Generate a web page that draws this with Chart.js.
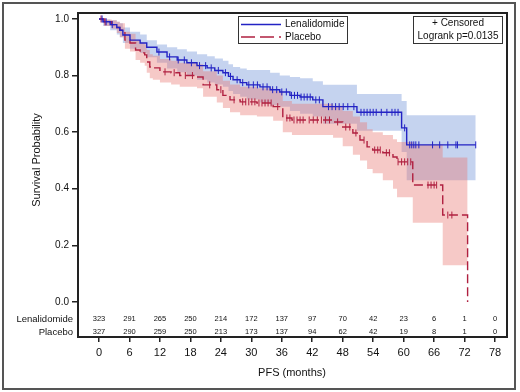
<!DOCTYPE html>
<html>
<head>
<meta charset="utf-8">
<script src="https://cdn.jsdelivr.net/npm/chart.js@4.4.1/dist/chart.umd.min.js"></script>
<style>
  html, body { margin: 0; padding: 0; background: #fff; }
</style>
</head>
<body>
<canvas id="km" width="520" height="392"></canvas>
<script>
// Lenalidomide: KM estimate and confidence band
var lenTime  = [0, 0.8, 2.2, 3.5, 4.1, 4.7, 6.1, 8.1, 9.4, 11.4, 13.4, 15.4, 17.3, 19.3, 21.3, 22.8, 24.4, 25.5, 26.4, 27.8, 29.1, 31.7, 33.7, 35.6, 37.6, 39.6, 42.1, 44.1, 50.8, 59.6, 60.6, 74.2]
var lenSurv  = [1.0, 0.99, 0.98, 0.97, 0.96, 0.943, 0.925, 0.915, 0.90, 0.883, 0.866, 0.855, 0.845, 0.835, 0.827, 0.818, 0.81, 0.797, 0.785, 0.775, 0.767, 0.76, 0.75, 0.742, 0.73, 0.724, 0.714, 0.69, 0.67, 0.615, 0.555, 0.555]
var lenUpper = [1.0, 0.998, 0.995, 0.99, 0.985, 0.97, 0.955, 0.945, 0.925, 0.91, 0.90, 0.893, 0.885, 0.875, 0.868, 0.86, 0.852, 0.84, 0.83, 0.825, 0.82, 0.82, 0.81, 0.80, 0.795, 0.79, 0.78, 0.767, 0.735, 0.71, 0.66, 0.66]
var lenLower = [1.0, 0.975, 0.96, 0.945, 0.935, 0.915, 0.895, 0.88, 0.865, 0.845, 0.825, 0.812, 0.80, 0.785, 0.775, 0.768, 0.76, 0.745, 0.735, 0.725, 0.715, 0.705, 0.695, 0.69, 0.675, 0.665, 0.655, 0.63, 0.605, 0.53, 0.43, 0.43]
var lenCensor = [0.6, 1.4, 2.6, 11.8, 13.9, 15.6, 16.8, 18.2, 19.8, 21.0, 22.1, 23.5, 24.9, 25.9, 27.2, 28.3, 29.5, 30.4, 31.2, 32.3, 33.1, 34.2, 35.0, 36.0, 36.9, 37.9, 38.5, 39.1, 39.8, 40.4, 41.0, 41.6, 42.7, 43.4, 45.2, 45.9, 46.6, 47.3, 48.1, 49.0, 50.2, 51.6, 52.2, 52.8, 53.4, 54.0, 54.6, 55.6, 56.7, 57.7, 58.3, 58.9, 60.2, 61.2, 61.6, 62.0, 62.4, 63.0, 65.7, 67.1, 68.7, 70.3, 70.6, 74.2]

// Placebo
var plaTime  = [0, 1.0, 2.5, 3.5, 4.1, 5.1, 6.1, 7.2, 8.1, 9.0, 9.4, 10.0, 10.6, 12.0, 14.2, 15.9, 19.3, 20.5, 23.2, 24.4, 25.8, 27.8, 31.1, 34.3, 36.2, 38.0, 46.1, 48.0, 50.0, 51.4, 52.8, 53.9, 55.9, 57.9, 58.7, 61.8, 67.7, 72.6]
var plaSurv  = [1.0, 0.99, 0.98, 0.97, 0.96, 0.925, 0.915, 0.89, 0.88, 0.873, 0.848, 0.83, 0.827, 0.813, 0.81, 0.80, 0.795, 0.767, 0.75, 0.73, 0.714, 0.707, 0.703, 0.69, 0.65, 0.643, 0.636, 0.618, 0.597, 0.572, 0.548, 0.537, 0.527, 0.512, 0.495, 0.413, 0.307, 0.0]
var plaUpper = [1.0, 0.998, 0.995, 0.99, 0.985, 0.955, 0.948, 0.925, 0.915, 0.91, 0.89, 0.875, 0.87, 0.858, 0.852, 0.845, 0.84, 0.815, 0.80, 0.782, 0.768, 0.76, 0.755, 0.745, 0.71, 0.70, 0.693, 0.675, 0.655, 0.635, 0.61, 0.60, 0.59, 0.575, 0.565, 0.555, 0.51, 0.51]
var plaLower = [1.0, 0.975, 0.965, 0.95, 0.935, 0.895, 0.885, 0.855, 0.845, 0.835, 0.81, 0.79, 0.785, 0.775, 0.768, 0.76, 0.755, 0.725, 0.705, 0.685, 0.67, 0.66, 0.655, 0.64, 0.60, 0.59, 0.58, 0.55, 0.52, 0.50, 0.47, 0.455, 0.43, 0.40, 0.37, 0.28, 0.13, 0.13]
var plaCensor = [0.4, 1.2, 13.0, 14.8, 17.0, 18.4, 21.8, 24.0, 26.6, 28.3, 28.9, 29.5, 30.1, 30.7, 31.5, 32.1, 32.7, 33.3, 33.9, 35.2, 37.0, 37.6, 38.4, 39.0, 39.6, 40.2, 41.4, 42.2, 43.0, 43.8, 44.6, 45.4, 47.0, 48.6, 49.4, 50.6, 52.2, 54.3, 54.9, 55.4, 56.6, 57.2, 58.9, 59.6, 60.2, 60.8, 61.4, 64.8, 65.4, 66.0, 66.5, 68.7, 69.5]

// number at risk table
var riskMonths = [0, 6, 12, 18, 24, 30, 36, 42, 48, 54, 60, 66, 72, 78]
var lenRisk = [323, 291, 265, 250, 214, 172, 137, 97, 70, 42, 23, 6, 1, 0]
var plaRisk = [327, 290, 259, 250, 213, 173, 137, 94, 62, 42, 19, 8, 1, 0]
var yTicks = [0, 0.2, 0.4, 0.6, 0.8, 1.0]

var azul = '#2323c4'
var vermelho = '#b02040'

function pontos(tempos, valores) {
    return tempos.map(function (t, i) { return { x: t, y: valores[i] } })
}

// value of the step curve at time t
function survNoTempo(tempos, surv, t) {
    var s = surv[0]
    for (var i = 0; i < tempos.length; i++) {
        if (tempos[i] <= t) s = surv[i]
    }
    return s
}

function censurados(lista, tempos, surv) {
    return lista.map(function (t) { return { x: t, y: survNoTempo(tempos, surv, t) } })
}

Chart.defaults.font.family = '"Liberation Sans", Arial, sans-serif'
Chart.defaults.color = '#111'

const decor = {
    id: 'decor',
    afterDraw(chart) {
        const ctx = chart.ctx
        const a = chart.chartArea
        const xs = chart.scales.x
        ctx.save()

        // frame round the plot
        ctx.strokeStyle = '#222'
        ctx.lineWidth = 2
        ctx.strokeRect(a.left, a.top, a.right - a.left, a.bottom - a.top)

        // outer border
        ctx.strokeStyle = '#555'
        ctx.lineWidth = 2
        ctx.strokeRect(3, 3, 512, 386)

        // at-risk table
        ctx.fillStyle = '#111'
        ctx.textBaseline = 'middle'
        ctx.font = '9.5px "Liberation Sans", Arial, sans-serif'
        ctx.textAlign = 'right'
        ctx.fillText('Lenalidomide', 73, 319)
        ctx.fillText('Placebo', 73, 332)
        ctx.font = '7.5px "Liberation Sans", Arial, sans-serif'
        ctx.textAlign = 'center'
        for (let i = 0; i < riskMonths.length; i++) {
            const px = xs.getPixelForValue(riskMonths[i])
            ctx.fillText(String(lenRisk[i]), px, 319)
            ctx.fillText(String(plaRisk[i]), px, 332)
        }

        // axis titles
        ctx.font = '11px "Liberation Sans", Arial, sans-serif'
        ctx.fillText('PFS (months)', 292, 373)
        ctx.save()
        ctx.translate(37, 160)
        ctx.rotate(-Math.PI / 2)
        ctx.fillText('Survival Probability', 0, 0)
        ctx.restore()

        // legend
        ctx.strokeStyle = '#333'
        ctx.lineWidth = 1
        ctx.strokeRect(238.5, 16.5, 109, 27)
        ctx.strokeRect(413.5, 16.5, 89, 27)

        ctx.lineWidth = 1.5
        ctx.strokeStyle = azul
        ctx.beginPath()
        ctx.moveTo(241, 24.5)
        ctx.lineTo(281, 24.5)
        ctx.stroke()
        ctx.strokeStyle = vermelho
        ctx.setLineDash([14, 5])
        ctx.beginPath()
        ctx.moveTo(241, 37)
        ctx.lineTo(281, 37)
        ctx.stroke()
        ctx.setLineDash([])

        ctx.font = '10px "Liberation Sans", Arial, sans-serif'
        ctx.textAlign = 'left'
        ctx.fillText('Lenalidomide', 285, 24.5)
        ctx.fillText('Placebo', 285, 37)
        ctx.textAlign = 'center'
        ctx.fillText('+ Censored', 458, 23.5)
        ctx.fillText('Logrank p=0.0135', 458, 36.5)

        ctx.restore()
    }
}

const ctx = document.getElementById('km')

var graficoKM = new Chart(ctx, {
    type: 'line',
    data: {
        datasets: [
            { data: censurados(lenCensor, lenTime, lenSurv), showLine: false, pointStyle: 'line', pointRotation: 90, pointRadius: 3.5, pointBorderColor: azul, pointBorderWidth: 1, order: 0 },
            { data: censurados(plaCensor, plaTime, plaSurv), showLine: false, pointStyle: 'line', pointRotation: 90, pointRadius: 3.5, pointBorderColor: vermelho, pointBorderWidth: 1, order: 0 },
            { data: pontos(lenTime, lenSurv), stepped: true, borderColor: azul, borderWidth: 1.4, pointRadius: 0, fill: false, order: 1 },
            { data: pontos(plaTime, plaSurv), stepped: true, borderColor: vermelho, borderWidth: 1.4, borderDash: [9, 4], pointRadius: 0, fill: false, order: 1 },
            // bands: lower then upper filled down to it
            { data: pontos(lenTime, lenLower), stepped: true, borderColor: 'transparent', borderWidth: 0, pointRadius: 0, fill: false, order: 3 },
            { data: pontos(lenTime, lenUpper), stepped: true, borderColor: 'transparent', borderWidth: 0, pointRadius: 0, fill: '-1', backgroundColor: 'rgba(110,145,215,0.4)', order: 3 },
            { data: pontos(plaTime, plaLower), stepped: true, borderColor: 'transparent', borderWidth: 0, pointRadius: 0, fill: false, order: 2 },
            { data: pontos(plaTime, plaUpper), stepped: true, borderColor: 'transparent', borderWidth: 0, pointRadius: 0, fill: '-1', backgroundColor: 'rgba(232,120,115,0.4)', order: 2 }
        ]
    },
    options: {
        responsive: false,
        animation: false,
        events: [],
        layout: { padding: { left: 5, right: 13, top: 13, bottom: 0 } },
        scales: {
            x: {
                type: 'linear',
                min: -4.14,
                max: 80.36,
                afterBuildTicks: function (s) { s.ticks = riskMonths.map(function (v) { return { value: v } }) },
                afterFit: function (s) { s.height = 55 },
                grid: { drawOnChartArea: false, drawTicks: true, tickLength: 5, color: '#222', lineWidth: 1.5 },
                border: { display: true, color: '#222', width: 2 },
                ticks: { font: { size: 11 }, padding: 4, maxRotation: 0, autoSkip: false, color: '#111' }
            },
            y: {
                min: -0.124,
                max: 1.021,
                afterBuildTicks: function (s) { s.ticks = yTicks.map(function (v) { return { value: v } }) },
                afterFit: function (s) { s.width = 73 },
                grid: { drawOnChartArea: false, drawTicks: true, tickLength: 6, color: '#222', lineWidth: 1.5 },
                border: { display: true, color: '#222', width: 2 },
                ticks: { font: { size: 10 }, padding: 3, color: '#111', callback: function (v) { return v.toFixed(1) } }
            }
        },
        plugins: {
            legend: { display: false },
            tooltip: { enabled: false }
        }
    },
    plugins: [decor]
});
</script>
</body>
</html>
